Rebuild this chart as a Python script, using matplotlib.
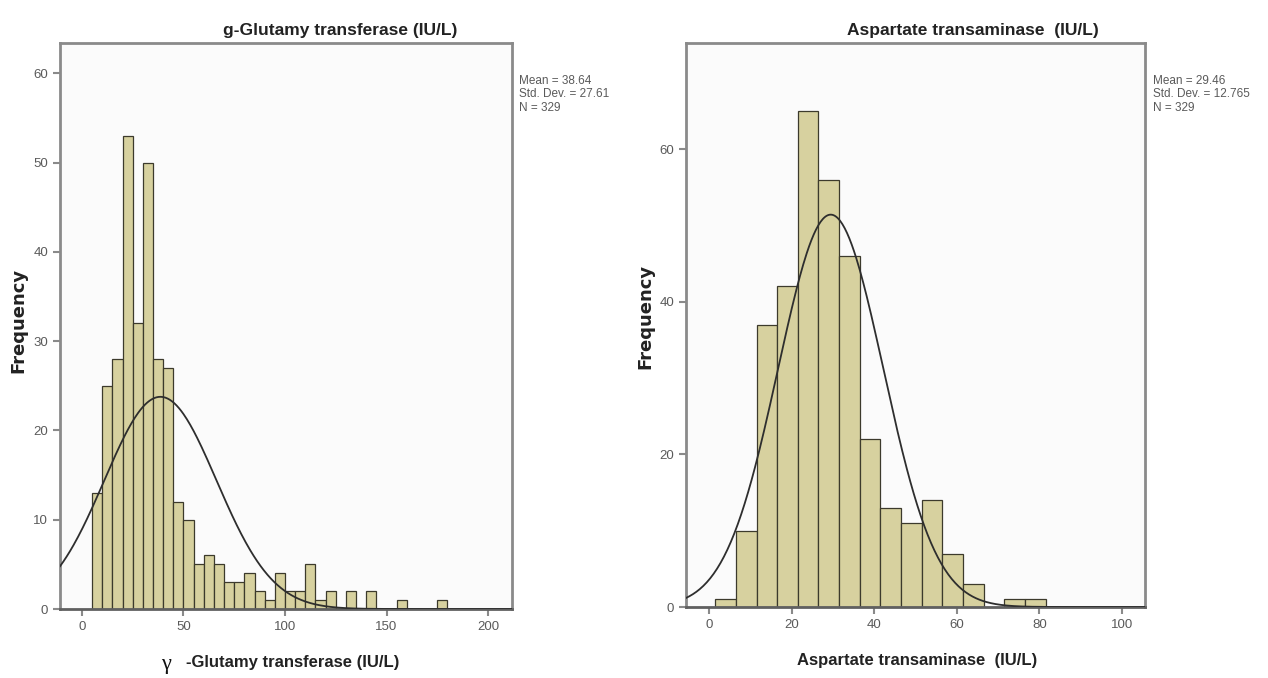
import numpy as np
import matplotlib
matplotlib.use("Agg")
import matplotlib.pyplot as plt

plt.rcParams['font.family'] = ['Liberation Sans Narrow', 'Liberation Sans', 'DejaVu Sans']

# ========= DATA =========
# g-Glutamy transferase: 5-wide bins starting at 5
ggt_edges = [5, 10, 15, 20, 25, 30, 35, 40, 45, 50, 55, 60, 65, 70, 75, 80, 85, 90,
             95, 100, 105, 110, 115, 120, 125, 130, 135, 140, 145, 150, 155, 160,
             165, 170, 175]
ggt_counts = [13, 25, 28, 53, 32, 50, 28, 27, 12, 10, 5, 6, 5, 3, 3, 4, 2, 1,
              4, 2, 2, 5, 1, 2, 0, 2, 0, 2, 0, 0, 1, 0, 0, 0, 1]
ggt_mean, ggt_sd, ggt_n = 38.64, 27.61, 329

# Aspartate transaminase: 5-wide bins starting at 1.5
ast_edges = [1.5, 6.5, 11.5, 16.5, 21.5, 26.5, 31.5, 36.5, 41.5, 46.5, 51.5,
             56.5, 61.5, 66.5, 71.5, 76.5]
ast_counts = [1, 10, 37, 42, 65, 56, 46, 22, 13, 11, 14, 7, 3, 0, 1, 1]
ast_mean, ast_sd, ast_n = 29.46, 12.765, 329

BIN_W = 5
BAR_FILL = "#d7d19f"
BAR_EDGE = "#3c3a2c"
FRAME = "#8a8a8a"
TXT = "#5a5a5a"

fig = plt.figure(figsize=(12.68, 6.78), dpi=100)
fig.patch.set_facecolor("white")


def hist_panel(rect, edges, counts, mean, sd, xlim, ylim, xticks, yticks):
    ax = fig.add_axes(rect)
    ax.set_facecolor("#fbfbfb")
    e = np.array(edges, dtype=float)
    c = np.array(counts, dtype=float)
    keep = c > 0
    ax.bar(e[keep], c[keep], width=BIN_W, align="edge", color=BAR_FILL,
           edgecolor=BAR_EDGE, linewidth=0.9, zorder=2)
    # normal curve scaled to counts
    xs = np.linspace(xlim[0], xlim[1], 400)
    ys = c.sum() * BIN_W * np.exp(-0.5 * ((xs - mean) / sd) ** 2) / (sd * np.sqrt(2 * np.pi))
    ax.plot(xs, ys, color="#2e2e2e", lw=1.3, zorder=3)
    ax.set_xlim(*xlim)
    ax.set_ylim(*ylim)
    ax.set_xticks(xticks)
    ax.set_yticks(yticks)
    for s in ax.spines.values():
        s.set_color(FRAME)
        s.set_linewidth(2)
    ax.spines['bottom'].set_color("#606060")
    ax.tick_params(colors=FRAME, labelcolor=TXT, labelsize=9.5, length=5, width=1.5,
                   direction="out")
    return ax


ax1 = hist_panel([60 / 1268, 1 - 609 / 678, 452 / 1268, 566 / 678],
                 ggt_edges, ggt_counts, ggt_mean, ggt_sd,
                 (-10.8, 211.8), (0, 63.4), [0, 50, 100, 150, 200],
                 [0, 10, 20, 30, 40, 50, 60])
ax2 = hist_panel([686 / 1268, 1 - 607 / 678, 459 / 1268, 564 / 678],
                 ast_edges, ast_counts, ast_mean, ast_sd,
                 (-5.6, 105.6), (0, 73.9), [0, 20, 40, 60, 80, 100],
                 [0, 20, 40, 60])

# titles
fig.text(340 / 1268, 1 - 30 / 678, "g-Glutamy transferase (IU/L)", ha="center", va="center",
         fontsize=12.5, fontweight="bold", color="#222222")
fig.text(973 / 1268, 1 - 30 / 678, "Aspartate transaminase  (IU/L)", ha="center", va="center",
         fontsize=12.5, fontweight="bold", color="#222222")

# stats boxes
fig.text(519 / 1268, 1 - 75 / 678, f"Mean = {ggt_mean:.2f}\nStd. Dev. = {ggt_sd:.2f}\nN = {ggt_n}",
         ha="left", va="top", fontsize=8.5, color=TXT, linespacing=1.15)
fig.text(1153 / 1268, 1 - 75 / 678, f"Mean = {ast_mean:.2f}\nStd. Dev. = {ast_sd:.3f}\nN = {ast_n}",
         ha="left", va="top", fontsize=8.5, color=TXT, linespacing=1.15)

# y labels
fig.text(18 / 1268, 1 - 320 / 678, "Frequency", rotation=90, ha="center", va="center",
         fontsize=13, fontweight="bold", color="#222222", family=["DejaVu Sans"])
fig.text(645 / 1268, 1 - 316 / 678, "Frequency", rotation=90, ha="center", va="center",
         fontsize=13, fontweight="bold", color="#222222", family=["DejaVu Sans"])

# x labels
fig.text(166 / 1268, 1 - 665 / 678, "γ", ha="center", va="center", fontsize=16,
         family=["Liberation Serif", "DejaVu Serif"], color="#111111")
fig.text(186 / 1268, 1 - 662 / 678, "-Glutamy transferase (IU/L)", ha="left", va="center",
         fontsize=12, fontweight="bold", color="#222222")
fig.text(917 / 1268, 1 - 660 / 678, "Aspartate transaminase  (IU/L)", ha="center", va="center",
         fontsize=12, fontweight="bold", color="#222222")

fig.savefig("out.png", dpi=100)
